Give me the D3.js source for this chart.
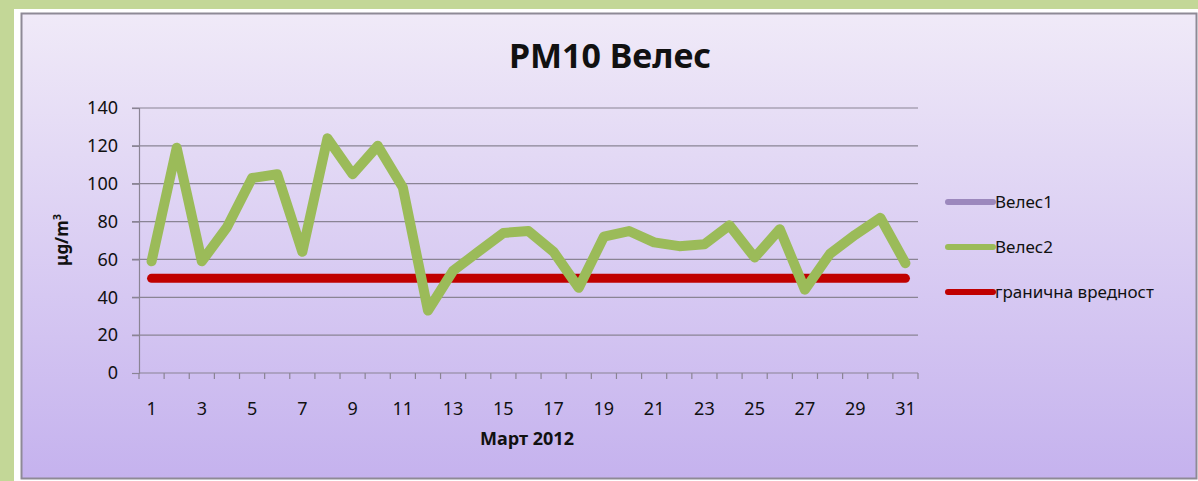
<!DOCTYPE html>
<html>
<head>
<meta charset="utf-8">
<script src="https://cdn.jsdelivr.net/npm/d3@7"></script>
<style>
  body { margin: 0; background: #c3d797; }
  svg { display: block; }
  text { font-family: "Comic Sans MS", "Noto Sans", sans-serif; fill: #111; }
</style>
</head>
<body>
<script>
// data
var days = d3.range(1, 32);
var veles1 = [];
var veles2 = [59, 119, 59, 77, 103, 105, 64, 124, 105, 120, 98, 33, 54, 64, 74, 75, 64, 45, 72, 75, 69, 67, 68, 78, 61, 76, 44, 63, 73, 82, 58];
var limit = days.map(function () { return 50; });
var yTicks = [0, 20, 40, 60, 80, 100, 120, 140];
var xTickLabels = d3.range(1, 32, 2);
var seriesNames = ["Велес1", "Велес2", "гранична вредност"];
var seriesColors = ["#9c88bd", "#9bbb59", "#c00000"];

var width = 1198, height = 481;

var svg = d3.select("body").append("svg")
  .attr("width", width)
  .attr("height", height);

//Background gradient of the chart area
var grad = svg.append("defs").append("linearGradient")
  .attr("id", "bg").attr("x1", 0).attr("y1", 0).attr("x2", 0).attr("y2", 1);
grad.append("stop").attr("offset", "0%").attr("stop-color", "#f0eaf8");
grad.append("stop").attr("offset", "100%").attr("stop-color", "#c5b2ee");

//white frame then the chart box
svg.append("rect").attr("x", 14).attr("y", 9).attr("width", width - 14).attr("height", height - 9).attr("fill", "#ffffff");
svg.append("rect")
  .attr("x", 21.5).attr("y", 13.5)
  .attr("width", width - 23).attr("height", 465)
  .attr("fill", "url(#bg)")
  .attr("stroke", "#8e8a96")
  .attr("stroke-width", 2);

var plotLeft = 139, plotRight = 918, plotTop = 108, plotBottom = 373;

var x = d3.scaleBand().domain(days).range([plotLeft, plotRight]);
var y = d3.scaleLinear().domain([0, 140]).range([plotBottom, plotTop]);

//gridlines
svg.append("g")
  .selectAll("line")
  .data(yTicks.filter(function (d) { return d > 0; }))
  .enter().append("line")
  .attr("x1", plotLeft - 7).attr("x2", plotRight)
  .attr("y1", function (d) { return y(d); })
  .attr("y2", function (d) { return y(d); })
  .attr("stroke", "#8a8494").attr("stroke-width", 1.2);

//y axis
var yAxis = svg.append("g")
  .attr("transform", "translate(" + plotLeft + ",0)")
  .call(d3.axisLeft(y).tickValues(yTicks).tickSize(7).tickPadding(14));
yAxis.select(".domain").attr("stroke", "#8a8494").attr("stroke-width", 1.2);
yAxis.selectAll(".tick line").attr("stroke", "#8a8494").attr("stroke-width", 1.2);
yAxis.selectAll("text").attr("font-size", "18px").attr("fill", "#111")
  .style("font-family", "\"Comic Sans MS\", \"Noto Sans\", sans-serif");

//x axis with ticks between categories
var xAxis = svg.append("g").attr("transform", "translate(0," + plotBottom + ")");
xAxis.append("line").attr("x1", plotLeft).attr("x2", plotRight)
  .attr("stroke", "#8a8494").attr("stroke-width", 1.2);
xAxis.selectAll(".sep")
  .data(days.concat([32]))
  .enter().append("line")
  .attr("class", "sep")
  .attr("x1", function (d) { return d <= 31 ? x(d) : plotRight; })
  .attr("x2", function (d) { return d <= 31 ? x(d) : plotRight; })
  .attr("y1", 0).attr("y2", 6)
  .attr("stroke", "#8a8494").attr("stroke-width", 1.2);
xAxis.selectAll(".lbl")
  .data(xTickLabels)
  .enter().append("text")
  .attr("class", "lbl")
  .attr("x", function (d) { return x(d) + x.bandwidth() / 2; })
  .attr("y", 42)
  .attr("text-anchor", "middle")
  .attr("font-size", "18px")
  .text(function (d) { return d; });

//titles
svg.append("text")
  .attr("x", 610).attr("y", 68)
  .attr("text-anchor", "middle")
  .attr("font-size", "34px").attr("font-weight", "bold")
  .text("PM10 Велес");

svg.append("text")
  .attr("x", 527).attr("y", 445)
  .attr("text-anchor", "middle")
  .attr("font-size", "18px").attr("font-weight", "bold")
  .text("Март 2012");

var yt = svg.append("text")
  .attr("transform", "translate(68,240) rotate(-90)")
  .attr("text-anchor", "middle")
  .attr("font-size", "17px").attr("font-weight", "bold");
yt.append("tspan").text("μg/m");
yt.append("tspan").attr("font-size", "11px").attr("dy", "-7").text("3");

//lines
var line = d3.line()
  .x(function (d, i) { return x(days[i]) + x.bandwidth() / 2; })
  .y(function (d) { return y(d); });

svg.append("path").datum(limit)
  .attr("d", line)
  .attr("fill", "none")
  .attr("stroke", seriesColors[2])
  .attr("stroke-width", 9)
  .attr("stroke-linecap", "round");

svg.append("path").datum(veles2)
  .attr("d", line)
  .attr("fill", "none")
  .attr("stroke", seriesColors[1])
  .attr("stroke-width", 10)
  .attr("stroke-linejoin", "round")
  .attr("stroke-linecap", "round");

if (veles1.length) {
  svg.append("path").datum(veles1).attr("d", line)
    .attr("fill", "none").attr("stroke", seriesColors[0]).attr("stroke-width", 9);
}

//legend
var legend = svg.append("g")
  .selectAll("g")
  .data(seriesNames)
  .enter().append("g")
  .attr("transform", function (d, i) { return "translate(948," + (202 + i * 45) + ")"; });
legend.append("line")
  .attr("x1", 0).attr("x2", 45)
  .attr("stroke", function (d, i) { return seriesColors[i]; })
  .attr("stroke-width", 6)
  .attr("stroke-linecap", "round");
legend.append("text")
  .attr("x", 47).attr("y", 6)
  .attr("font-size", "17px")
  .text(function (d) { return d; });
</script>
</body>
</html>
